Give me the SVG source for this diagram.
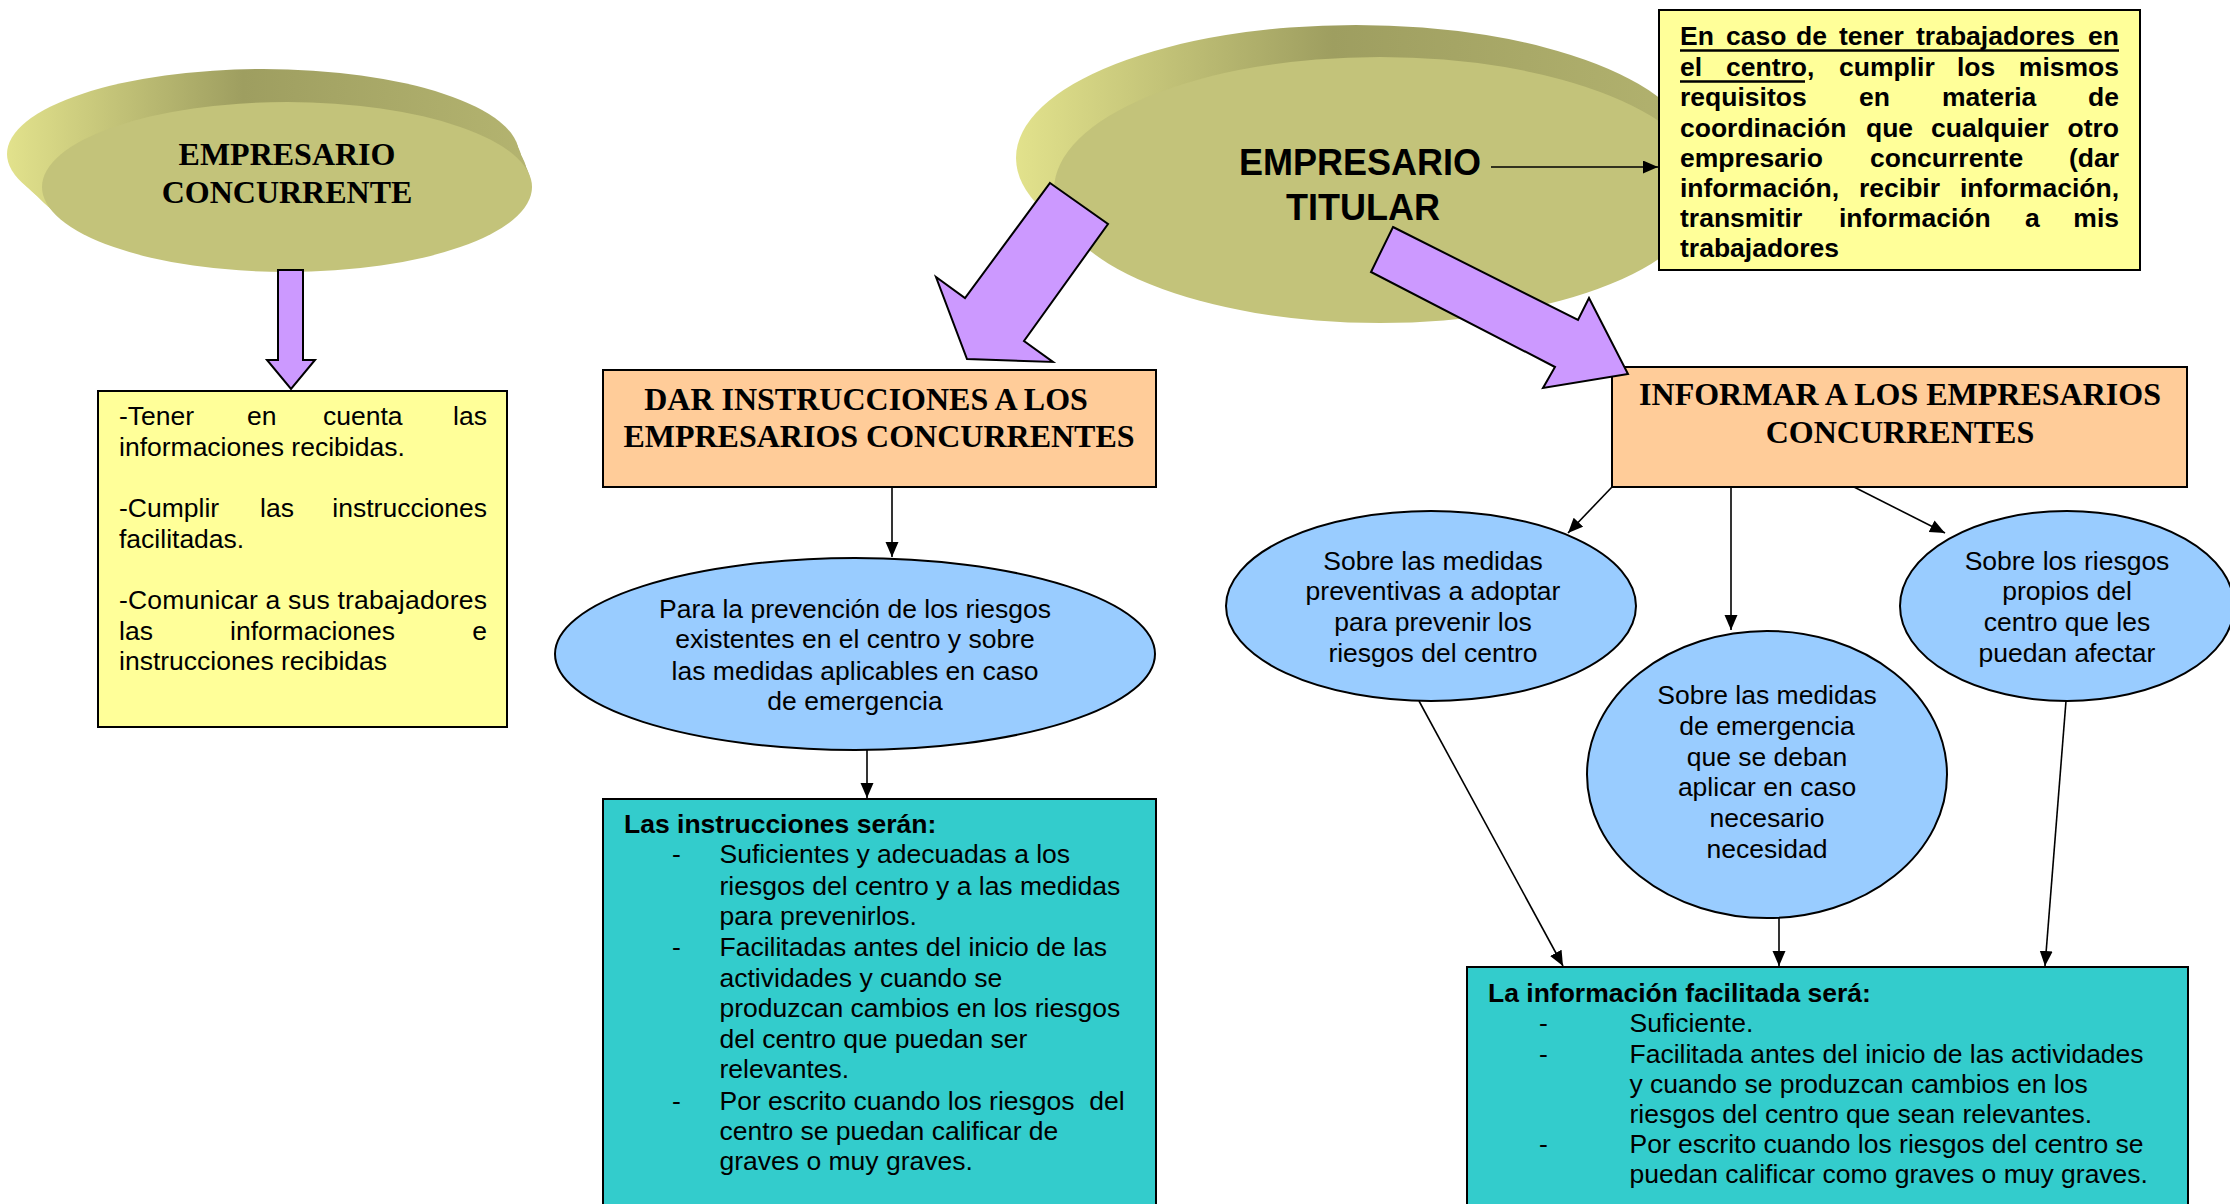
<svg xmlns="http://www.w3.org/2000/svg" width="2230" height="1204" viewBox="0 0 2230 1204">
<defs>
  <linearGradient id="sideC" gradientUnits="userSpaceOnUse" x1="7" y1="0" x2="532" y2="0">
    <stop offset="0" stop-color="#E2E28C"/>
    <stop offset="0.45" stop-color="#9E9E60"/>
    <stop offset="1" stop-color="#B4B470"/>
  </linearGradient>
  <linearGradient id="sideT" gradientUnits="userSpaceOnUse" x1="1016" y1="0" x2="1720" y2="0">
    <stop offset="0" stop-color="#E2E28C"/>
    <stop offset="0.45" stop-color="#9E9E60"/>
    <stop offset="1" stop-color="#B4B470"/>
  </linearGradient>
  <marker id="ah" markerUnits="userSpaceOnUse" markerWidth="16" markerHeight="14" refX="15" refY="6.5" orient="auto">
    <path d="M0,0 L15,6.5 L0,13 z" fill="#000"/>
  </marker>
</defs>
<style>
  .box{stroke:#000;stroke-width:2}
  .yellow{fill:#FFFF99}
  .orange{fill:#FFCC99}
  .teal{fill:#33CCCC}
  .blue{fill:#99CCFF;stroke:#000;stroke-width:2}
  .olive{fill:#C3C37A}
  .t{font-family:"Liberation Sans",Arial,sans-serif;font-size:26.5px;fill:#000}
  .tb{font-family:"Liberation Sans",Arial,sans-serif;font-size:26.5px;font-weight:bold;fill:#000}
  .tr{font-family:"Liberation Serif","Times New Roman",serif;font-size:32px;font-weight:bold;fill:#000}
  .big{font-family:"Liberation Sans",Arial,sans-serif;font-size:36px;font-weight:bold;fill:#000}
  .mid{text-anchor:middle}
  .end{text-anchor:end}
  .line{stroke:#000;stroke-width:1.6;fill:none;marker-end:url(#ah)}
  .block{fill:#CC99FF;stroke:#000;stroke-width:2;stroke-linejoin:miter}
</style>
<rect width="2230" height="1204" fill="#FFFFFF"/>

<g id="empresario-concurrente">
  <g fill="url(#sideC)">
    <ellipse cx="263" cy="154" rx="256" ry="85"/>
    <ellipse cx="266" cy="158" rx="254" ry="85"/>
    <ellipse cx="269" cy="162" rx="253" ry="85"/>
    <ellipse cx="272" cy="166" rx="251" ry="85"/>
    <ellipse cx="275" cy="170" rx="250" ry="85"/>
    <ellipse cx="278" cy="174" rx="249" ry="85"/>
    <ellipse cx="281" cy="178" rx="247" ry="85"/>
    <ellipse cx="284" cy="182" rx="246" ry="85"/>
  </g>
  <ellipse class="olive" cx="287" cy="187" rx="245" ry="85"/>
  <text class="tr mid" x="287" y="165">EMPRESARIO</text>
  <text class="tr mid" x="287" y="203">CONCURRENTE</text>
</g>

<g id="empresario-titular">
  <g fill="url(#sideT)">
    <ellipse cx="1356" cy="158" rx="340" ry="133"/>
    <ellipse cx="1359" cy="162" rx="338" ry="133"/>
    <ellipse cx="1362" cy="166" rx="336" ry="133"/>
    <ellipse cx="1365" cy="170" rx="334" ry="133"/>
    <ellipse cx="1368" cy="174" rx="332" ry="133"/>
    <ellipse cx="1371" cy="178" rx="331" ry="133"/>
    <ellipse cx="1374" cy="182" rx="329" ry="133"/>
    <ellipse cx="1377" cy="186" rx="327" ry="133"/>
  </g>
  <ellipse class="olive" cx="1380" cy="190" rx="326" ry="133"/>
  <text class="big mid" x="1360" y="175">EMPRESARIO</text>
  <text class="big mid" x="1363" y="220">TITULAR</text>
</g>

<g id="requisitos-titular">
  <rect class="box yellow" x="1659" y="10" width="481" height="260"/>
  <g class="tb" font-size="26">
    <text y="45"><tspan x="1680">En</tspan><tspan x="1726">caso</tspan><tspan x="1796">de</tspan><tspan x="1839">tener</tspan><tspan x="1916">trabajadores</tspan></text>
    <text class="end" x="2119" y="45">en</text>
    <text y="76"><tspan x="1680">el</tspan><tspan x="1726">centro</tspan><tspan>,</tspan><tspan x="1839">cumplir</tspan><tspan x="1957">los</tspan></text>
    <text class="end" x="2119" y="76">mismos</text>
    <text y="106"><tspan x="1680">requisitos</tspan><tspan x="1859">en</tspan><tspan x="1942">materia</tspan></text>
    <text class="end" x="2119" y="106">de</text>
    <text y="137"><tspan x="1680">coordinación</tspan><tspan x="1866">que</tspan><tspan x="1931">cualquier</tspan></text>
    <text class="end" x="2119" y="137">otro</text>
    <text y="167"><tspan x="1680">empresario</tspan><tspan x="1870">concurrente</tspan></text>
    <text class="end" x="2119" y="167">(dar</text>
    <text y="197"><tspan x="1680">información,</tspan><tspan x="1859">recibir</tspan></text>
    <text class="end" x="2119" y="197">información,</text>
    <text y="227"><tspan x="1680">transmitir</tspan><tspan x="1839">información</tspan><tspan x="2025">a</tspan></text>
    <text class="end" x="2119" y="227">mis</text>
    <text x="1680" y="257">trabajadores</text>
  </g>
  <path d="M1680,50.5 H2119 M1680,81.5 H1805" stroke="#000" stroke-width="2.4"/>
</g>

<g id="obligaciones-concurrente">
  <rect class="box yellow" x="98" y="391" width="409" height="336"/>
  <g class="t">
    <text y="425"><tspan x="119">-Tener</tspan><tspan x="247">en</tspan><tspan x="323">cuenta</tspan></text>
    <text class="end" x="487" y="425">las</text>
    <text x="119" y="456">informaciones recibidas.</text>
    <text y="517"><tspan x="119">-Cumplir</tspan><tspan x="260">las</tspan></text>
    <text class="end" x="487" y="517">instrucciones</text>
    <text x="119" y="548">facilitadas.</text>
    <text x="119" y="609" textLength="368" lengthAdjust="spacing">-Comunicar a sus trabajadores</text>
    <text y="640"><tspan x="119">las</tspan><tspan x="230">informaciones</tspan></text>
    <text class="end" x="487" y="640">e</text>
    <text x="119" y="670">instrucciones recibidas</text>
  </g>
</g>

<g id="dar-instrucciones">
  <rect class="box orange" x="603" y="370" width="553" height="117"/>
  <text class="tr mid" x="866" y="410">DAR INSTRUCCIONES A LOS</text>
  <text class="tr mid" x="879" y="447">EMPRESARIOS CONCURRENTES</text>
</g>

<g id="prevencion-riesgos">
  <ellipse class="blue" cx="855" cy="654" rx="300" ry="96"/>
  <g class="t mid">
    <text x="855" y="618">Para la prevención de los riesgos</text>
    <text x="855" y="648">existentes en el centro y sobre</text>
    <text x="855" y="680">las medidas aplicables en caso</text>
    <text x="855" y="710">de emergencia</text>
  </g>
</g>

<g id="instrucciones-seran">
  <rect class="box teal" x="603" y="799" width="553" height="420"/>
  <text class="tb" x="624" y="833">Las instrucciones serán:</text>
  <g class="t">
    <text x="672" y="863">-</text>
    <text x="672" y="956">-</text>
    <text x="672" y="1110">-</text>
    <text x="719.5" y="863">Suficientes y adecuadas a los</text>
    <text x="719.5" y="895">riesgos del centro y a las medidas</text>
    <text x="719.5" y="925">para prevenirlos.</text>
    <text x="719.5" y="956">Facilitadas antes del inicio de las</text>
    <text x="719.5" y="987">actividades y cuando se</text>
    <text x="719.5" y="1017">produzcan cambios en los riesgos</text>
    <text x="719.5" y="1048">del centro que puedan ser</text>
    <text x="719.5" y="1078">relevantes.</text>
    <text x="719.5" y="1110" style="white-space:pre">Por escrito cuando los riesgos  del</text>
    <text x="719.5" y="1140">centro se puedan calificar de</text>
    <text x="719.5" y="1170">graves o muy graves.</text>
  </g>
</g>

<g id="informar">
  <rect class="box orange" x="1612" y="367" width="575" height="120"/>
  <text class="tr mid" x="1900" y="405">INFORMAR A LOS EMPRESARIOS</text>
  <text class="tr mid" x="1900" y="443">CONCURRENTES</text>
</g>

<g id="medidas-preventivas">
  <ellipse class="blue" cx="1431" cy="606" rx="205" ry="95"/>
  <g class="t mid">
    <text x="1433" y="570">Sobre las medidas</text>
    <text x="1433" y="600">preventivas a adoptar</text>
    <text x="1433" y="631">para prevenir los</text>
    <text x="1433" y="662">riesgos del centro</text>
  </g>
</g>

<g id="medidas-emergencia">
  <ellipse class="blue" cx="1767" cy="774.5" rx="180" ry="143.5"/>
  <g class="t mid">
    <text x="1767" y="704">Sobre las medidas</text>
    <text x="1767" y="735">de emergencia</text>
    <text x="1767" y="766">que se deban</text>
    <text x="1767" y="796">aplicar en caso</text>
    <text x="1767" y="827">necesario</text>
    <text x="1767" y="858">necesidad</text>
  </g>
</g>

<g id="riesgos-propios">
  <ellipse class="blue" cx="2067" cy="606" rx="167" ry="95"/>
  <g class="t mid">
    <text x="2067" y="570">Sobre los riesgos</text>
    <text x="2067" y="600">propios del</text>
    <text x="2067" y="631">centro que les</text>
    <text x="2067" y="662">puedan afectar</text>
  </g>
</g>

<g id="informacion-sera">
  <rect class="box teal" x="1467" y="967" width="721" height="260"/>
  <text class="tb" x="1488" y="1002">La información facilitada será:</text>
  <g class="t">
    <text x="1539" y="1032">-</text>
    <text x="1539" y="1063">-</text>
    <text x="1539" y="1153">-</text>
    <text x="1629.5" y="1032">Suficiente.</text>
    <text x="1629.5" y="1063">Facilitada antes del inicio de las actividades</text>
    <text x="1629.5" y="1093">y cuando se produzcan cambios en los</text>
    <text x="1629.5" y="1123">riesgos del centro que sean relevantes.</text>
    <text x="1629.5" y="1153">Por escrito cuando los riesgos del centro se</text>
    <text x="1629.5" y="1183">puedan calificar como graves o muy graves.</text>
  </g>
</g>

<g id="connectors">
  <polygon class="block" points="278,270 303,270 303,360 315,360 291,389 267,360 278,360"/>
  <polygon class="block" points="1050,183 1108,224 1024,341 1053,362 967,359 936,277 965,298"/>
  <polygon class="block" points="1393,227 1578,320 1589,298 1628,374 1543,388 1555,367 1371,272"/>
  <path class="line" d="M1491,167 L1658,167"/>
  <path class="line" d="M892,487 L892,557"/>
  <path class="line" d="M867,750 L867,798"/>
  <path class="line" d="M1612,487 L1568,533"/>
  <path class="line" d="M1731,487 L1731,630"/>
  <path class="line" d="M1854,487 L1945,533"/>
  <path class="line" d="M1419,701 L1563,966"/>
  <path class="line" d="M1779,918 L1779,966"/>
  <path class="line" d="M2066,701 L2045,966"/>
</g>
</svg>
